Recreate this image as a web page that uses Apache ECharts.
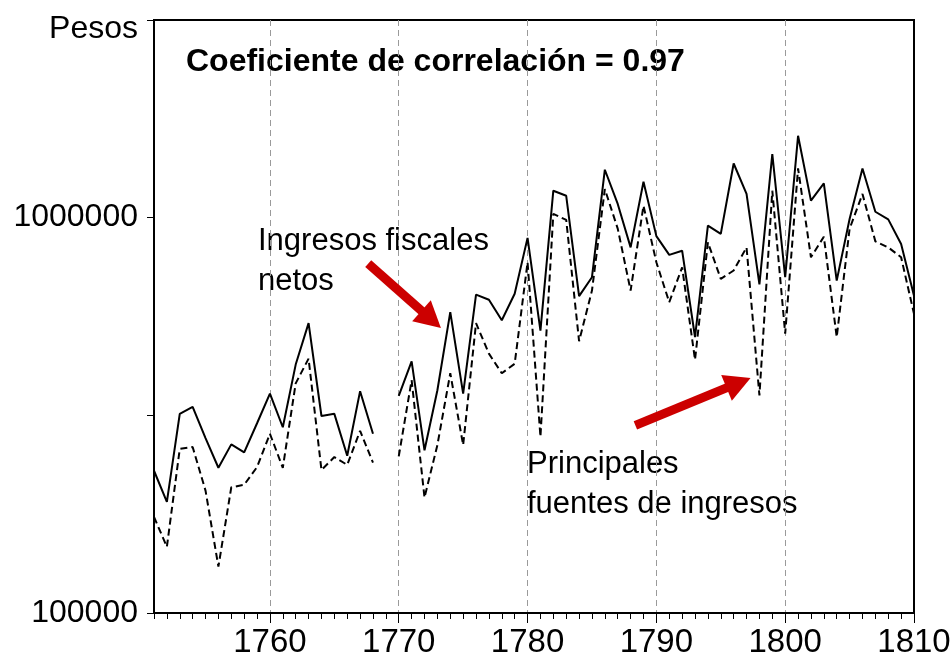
<!DOCTYPE html>
<html>
<head>
<meta charset="utf-8">
<script src="https://cdn.jsdelivr.net/npm/echarts@6/dist/echarts.min.js"></script>
<style>
html,body{margin:0;padding:0;background:#fff;overflow:hidden;}
#chart{width:951px;height:663px;}
</style>
</head>
<body>
<div id="chart"></div>
<script>
// ---- data ----
const years = [1751,1752,1753,1754,1755,1756,1757,1758,1759,1760,
  1761,1762,1763,1764,1765,1766,1767,1768,1769,1770,
  1771,1772,1773,1774,1775,1776,1777,1778,1779,1780,
  1781,1782,1783,1784,1785,1786,1787,1788,1789,1790,
  1791,1792,1793,1794,1795,1796,1797,1798,1799,1800,
  1801,1802,1803,1804,1805,1806,1807,1808,1809,1810];

// Ingresos fiscales netos (solid)
const ingresosNetos = [229000,191000,319000,332000,277000,233000,267000,255000,302000,359000,
  295000,425000,541000,315000,319000,250000,364000,284000,null,354000,
  433000,258000,366000,577000,359000,639000,620000,550000,642000,889000,
  518000,1170000,1136000,633000,707000,1322000,1083000,841000,1233000,898000,
  805000,825000,499000,955000,910000,1371000,1148000,678000,1448000,707000,
  1611000,1104000,1221000,693000,992000,1332000,1035000,990000,858000,635000];

// Principales fuentes de ingresos (dashed)
const principalesFuentes = [175000,147000,260000,263000,204000,131000,208000,211000,234000,284000,
  233000,381000,440000,230000,248000,237000,289000,240000,null,249000,
  388000,196000,266000,404000,266000,541000,453000,404000,427000,771000,
  279000,1022000,987000,487000,654000,1181000,938000,654000,1072000,771000,
  611000,749000,437000,866000,700000,735000,841000,355000,1170000,509000,
  1332000,794000,895000,499000,937000,1148000,871000,841000,794000,571000];

const xLabelYears = [1760,1770,1780,1790,1800,1810];
const gridYears = [1760,1770,1780,1790,1800];
const yAxisMin = 100000;
const yAxisMax = 3162278;
const titleText = 'Coeficiente de correlación = 0.97';
const note1 = 'Ingresos fiscales\nnetos';
const note2 = 'Principales\nfuentes de ingresos';
// arrows in data space: [year, pesos] tail -> head
const arrow1 = [[1767.63, 765500], [1772.52, 552700]];
const arrow2 = [[1788.37, 298400], [1796.38, 381900]];

const font = "'Liberation Sans', Arial, sans-serif";

const chart = echarts.init(document.getElementById('chart'), null, {renderer: 'canvas'});

const pair = (arr) => years.map((y, i) => [y, arr[i]]);

const arrowStyle = {color: '#cc0000', width: 9, type: 'solid'};

chart.setOption({
  animation: false,
  backgroundColor: '#ffffff',
  grid: {left: 154, right: 37, top: 20, bottom: 50, show: true, borderColor: '#000', borderWidth: 2,
    backgroundColor: 'transparent', containLabel: false, outerBoundsMode: 'none'},
  xAxis: [{
    type: 'value', min: 1751, max: 1810, interval: 1,
    axisLine: {show: true, lineStyle: {color: '#000', width: 2}},
    axisTick: {show: true, length: 6, lineStyle: {color: '#000', width: 1}},
    axisLabel: {
      show: true, margin: 13, color: '#000', fontFamily: font, fontSize: 33,
      formatter: (v) => xLabelYears.indexOf(v) >= 0 ? String(v) : ''
    },
    splitLine: {show: false}
  }, {
    type: 'category', data: years.map(String), boundaryGap: false, position: 'bottom',
    axisLine: {show: false},
    axisLabel: {show: false},
    axisTick: {show: true, length: 10, lineStyle: {color: '#000', width: 1},
      interval: (i, v) => xLabelYears.indexOf(+v) >= 0},
    splitLine: {show: true, interval: (i, v) => gridYears.indexOf(+v) >= 0,
      lineStyle: {color: '#9a9a9a', width: 1, type: [6, 4]}}
  }],
  yAxis: {
    type: 'log', logBase: Math.sqrt(10), min: yAxisMin, max: yAxisMax, splitNumber: 3,
    axisLine: {show: true, lineStyle: {color: '#000', width: 2}},
    axisTick: {show: true, length: 7, lineStyle: {color: '#000', width: 1}},
    splitLine: {show: false},
    minorTick: {show: false},
    axisLabel: {
      color: '#000', fontFamily: font, fontSize: 32, margin: 16,
      rich: {p: {fontFamily: font, fontSize: 32, color: '#000', padding: [18, 0, 0, 0]}},
      formatter: (v) => {
        const k = Math.round(Math.log10(v) * 2);
        if (k === 10) return '100000';
        if (k === 12) return '1000000';
        if (k === 13) return '{p|Pesos}';
        return '';
      }
    }
  },
  series: [{
    name: 'Ingresos fiscales netos', type: 'line', xAxisIndex: 0,
    data: pair(ingresosNetos), showSymbol: false, symbol: 'none', connectNulls: false,
    lineStyle: {color: '#000', width: 2}, z: 3,
    markLine: {
      silent: true, symbol: ['none', 'triangle'], symbolSize: [28, 26],
      label: {show: false}, lineStyle: arrowStyle,
      data: [
        [{coord: arrow1[0]}, {coord: arrow1[1]}],
        [{coord: arrow2[0]}, {coord: arrow2[1]}]
      ]
    }
  }, {
    name: 'Principales fuentes de ingresos', type: 'line', xAxisIndex: 0,
    data: pair(principalesFuentes), showSymbol: false, symbol: 'none', connectNulls: false,
    lineStyle: {color: '#000', width: 2, type: [7, 4]}, z: 3
  }],
  graphic: [{
    type: 'text', left: 186, top: 46,
    style: {text: titleText, fill: '#000', font: "bold 32px 'Liberation Sans', Arial, sans-serif"}
  }, {
    type: 'text', left: 258, top: 221,
    style: {text: note1, fill: '#000', font: "31px 'Liberation Sans', Arial, sans-serif", lineHeight: 40}
  }, {
    type: 'text', left: 527, top: 444,
    style: {text: note2, fill: '#000', font: "31px 'Liberation Sans', Arial, sans-serif", lineHeight: 40}
  }]
});
</script>
</body>
</html>
